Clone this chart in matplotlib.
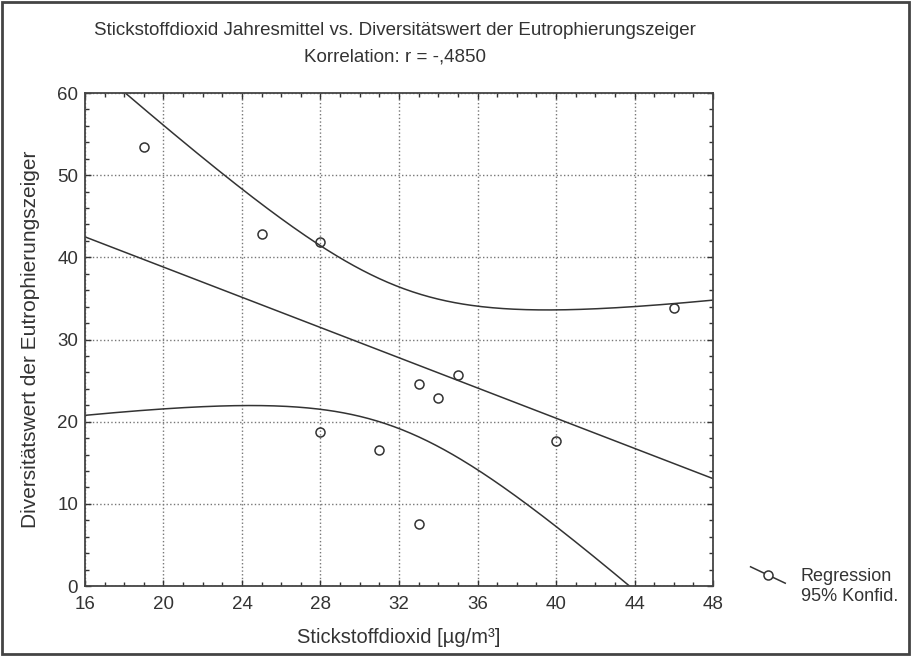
import numpy as np
import matplotlib
matplotlib.use("Agg")
import matplotlib.pyplot as plt
from matplotlib.lines import Line2D
from matplotlib.patches import Rectangle
from matplotlib.ticker import MultipleLocator

plt.rcParams['font.family'] = ['Liberation Sans', 'DejaVu Sans']

no2 = np.array([19, 25, 28, 28, 31, 33, 33, 34, 35, 40, 46])
diversitaet = np.array([53.4, 42.9, 41.9, 18.7, 16.5, 7.5, 24.6, 22.9, 25.7, 17.7, 33.8])

x_ticks = [16, 20, 24, 28, 32, 36, 40, 44, 48]
y_ticks = [0, 10, 20, 30, 40, 50, 60]

titel = "Stickstoffdioxid Jahresmittel vs. Diversitätswert der Eutrophierungszeiger"
untertitel = "Korrelation: r = -,4850"

# lineare Regression + 95% Konfidenzband des Mittelwerts
n = len(no2)
xm = no2.mean()
sxx = ((no2 - xm) ** 2).sum()
b = ((no2 - xm) * (diversitaet - diversitaet.mean())).sum() / sxx
a = diversitaet.mean() - b * xm
res = diversitaet - (a + b * no2)
s = np.sqrt((res ** 2).sum() / (n - 2))
t = 2.262  # t(0.975, 9)

xs = np.linspace(16, 48, 300)
fit = a + b * xs
hw = t * s * np.sqrt(1.0 / n + (xs - xm) ** 2 / sxx)

fig = plt.figure(figsize=(9.12, 6.56), dpi=100)
ax = fig.add_axes([0.0932, 0.1067, 0.6886, 0.7515])

lc = '#333333'
tc = '#333333'
ax.plot(xs, fit, color=lc, lw=1.1)
ax.plot(xs, fit + hw, color=lc, lw=1.1)
ax.plot(xs, fit - hw, color=lc, lw=1.1)
ax.plot(no2, diversitaet, 'o', ms=6.5, mfc='none', mec=lc, mew=1.1)

ax.set_xlim(16, 48)
ax.set_ylim(0, 60)
ax.set_xticks(x_ticks)
ax.set_yticks(y_ticks)
ax.xaxis.set_minor_locator(MultipleLocator(1))
ax.yaxis.set_minor_locator(MultipleLocator(2))
ax.tick_params(which='both', direction='in', top=True, right=True,
               labelsize=13.5, colors=tc, width=1)
ax.tick_params(axis='x', pad=7)
ax.tick_params(axis='y', pad=5)
ax.tick_params(which='major', length=4)
ax.tick_params(which='minor', length=3)
ax.grid(True, which='major', ls=':', color='#777777', lw=1)
for sp in ax.spines.values():
    sp.set_color('#444444')
    sp.set_linewidth(1.3)

ax.set_xlabel("Stickstoffdioxid [µg/m³]", fontsize=14.5, color=tc, labelpad=11)
ax.set_ylabel("Diversitätswert der Eutrophierungszeiger", fontsize=15, color=tc, labelpad=12)

fig.text(0.433, 0.954, titel, ha='center', va='center', fontsize=13.5, color=tc)
fig.text(0.433, 0.913, untertitel, ha='center', va='center', fontsize=13.5, color=tc)

# Legende
fig.add_artist(Line2D([0.823, 0.861], [0.136, 0.111], color=lc, lw=1.1))
fig.add_artist(Line2D([0.842], [0.1235], marker='o', ms=6.5, mfc='white', mec=lc, mew=1.1, ls='none'))
fig.text(0.878, 0.121, "Regression", ha='left', va='center', fontsize=13, color=tc)
fig.text(0.878, 0.090, "95% Konfid.", ha='left', va='center', fontsize=13, color=tc)

# Rahmen um die Grafik
fig.add_artist(Rectangle((0.002, 0.003), 0.995, 0.994, transform=fig.transFigure,
                         fill=False, edgecolor='#444444', lw=2))

fig.savefig("out.png", dpi=100)
